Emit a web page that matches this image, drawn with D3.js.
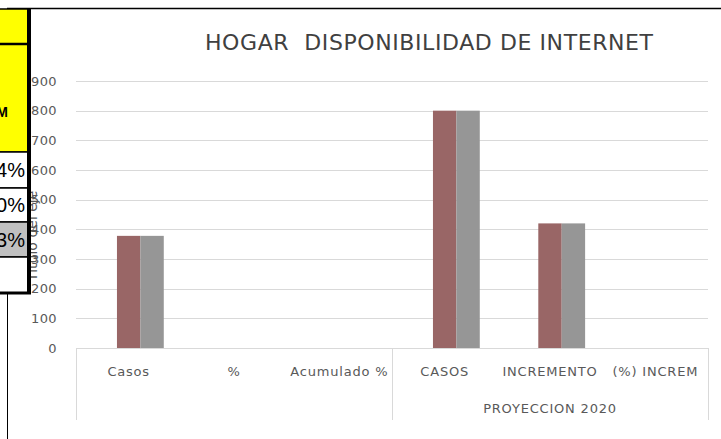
<!DOCTYPE html>
<html>
<head>
<meta charset="utf-8">
<script src="https://cdn.jsdelivr.net/npm/d3@7"></script>
<style>
	body { margin: 0; background: #fff; }
	svg { display: block; }
</style>
</head>
<body>
<svg id="chart" width="721" height="439"></svg>
<script>
// chart data
var categories = ["Casos", "%", "Acumulado %", "CASOS", "INCREMENTO", "(%) INCREM"];
var groupLabels = ["", "PROYECCION 2020"];
var groupSizes = [3, 3];
var seriesNames = ["Serie1", "Serie2", "Serie3"];
var serie1 = [0, 0, 0, 0, 0, 0];
var serie2 = [378, 0, 0, 800, 420, 0];
var serie3 = [378, 0, 0, 800, 420, 0];
var yTicks = [0, 100, 200, 300, 400, 500, 600, 700, 800, 900];
var title = "HOGAR  DISPONIBILIDAD DE INTERNET";
var axisTitle = "Título del eje";
// spreadsheet cells that sit on top of the chart (left side)
var tableRows = [
	{ h: 35, fill: "#ffff00", text: "" },
	{ h: 108, fill: "#ffff00", text: "INCREM", bold: true },
	{ h: 36, fill: "#ffffff", text: "14%" },
	{ h: 34, fill: "#ffffff", text: "50%" },
	{ h: 35, fill: "#c0c0c0", text: "63%" },
	{ h: 36, fill: "#ffffff", text: "" }
];

var colors = { "Serie1": "#4f81bd", "Serie2": "#996666", "Serie3": "#969696" };
var textColor = "#595959";
var gridColor = "#d9d9d9";
var font = "DejaVu Sans";

var svg = d3.select("#chart");
var plot = { left: 76, right: 708, top: 81, bottom: 348 };

var values = { "Serie1": serie1, "Serie2": serie2, "Serie3": serie3 };
var rows = categories.map(function (c, i) {
	return { cat: c, vals: seriesNames.map(function (s) { return { s: s, v: values[s][i] }; }) };
});

var x = d3.scaleBand().domain(categories).range([plot.left, plot.right]).padding(0);
// excel gap width 150% -> outer padding .75 of a bar on each side
var xSub = d3.scaleBand().domain(seriesNames).range([0, x.bandwidth()]).paddingInner(0).paddingOuter(0.75);
var y = d3.scaleLinear().domain([0, 900]).range([plot.bottom, plot.top]);

// chart frame
svg.append("rect").attr("x", 0).attr("y", 0).attr("width", 721).attr("height", 439).style("fill", "#fff");
svg.append("line").attr("x1", 7).attr("x2", 721).attr("y1", 8.5).attr("y2", 8.5)
	.attr("stroke", "#000").attr("stroke-width", 1.5);
svg.append("line").attr("x1", 7.5).attr("x2", 7.5).attr("y1", 8).attr("y2", 439)
	.attr("stroke", "#000").attr("stroke-width", 1);

// title
svg.append("text")
	.attr("x", 429).attr("y", 50).attr("text-anchor", "middle")
	.style("font-family", font).style("font-size", "22px").style("fill", "#404040")
	.attr("textLength", 448).attr("lengthAdjust", "spacing")
	.style("white-space", "pre")
	.text(title);

// gridlines
svg.append("g").selectAll("line").data(yTicks).enter()
	.append("line")
	.attr("x1", plot.left).attr("x2", plot.right)
	.attr("y1", function (d) { return Math.round(y(d)) + 0.5; })
	.attr("y2", function (d) { return Math.round(y(d)) + 0.5; })
	.attr("stroke", gridColor).attr("stroke-width", 1);

// bars
var catG = svg.append("g").selectAll("g").data(rows).enter()
	.append("g")
	.attr("transform", function (d) { return "translate(" + x(d.cat) + ",0)"; });
catG.selectAll("rect").data(function (d) { return d.vals; }).enter()
	.append("rect")
	.attr("x", function (d) { return xSub(d.s); })
	.attr("width", xSub.bandwidth())
	.attr("y", function (d) { return y(d.v); })
	.attr("height", function (d) { return y(0) - y(d.v); })
	.style("fill", function (d) { return colors[d.s]; });

// y axis labels
var yAxis = d3.axisLeft(y).tickValues(yTicks).tickSize(0).tickPadding(0);
var yg = svg.append("g").attr("transform", "translate(57,0)").call(yAxis);
yg.select(".domain").remove();
yg.selectAll("text").style("font-family", font).style("font-size", "13px")
	.style("fill", textColor).style("letter-spacing", "0.4px");

// axis title (mostly hidden behind the cells)
svg.append("text")
	.attr("transform", "translate(37,236) rotate(-90)")
	.attr("text-anchor", "middle")
	.style("font-family", font).style("font-size", "14px").style("fill", textColor)
	.text(axisTitle);

// category axis (two levels)
svg.append("line").attr("x1", plot.left).attr("x2", plot.right)
	.attr("y1", plot.bottom + 0.5).attr("y2", plot.bottom + 0.5)
	.attr("stroke", gridColor);
var xAxis = d3.axisBottom(x).tickSize(0).tickPadding(0);
var xg = svg.append("g").attr("transform", "translate(0,376)").call(xAxis);
xg.select(".domain").remove();
xg.selectAll("text").attr("dy", 0).style("font-family", font).style("font-size", "13px")
	.style("fill", textColor).style("letter-spacing", "0.8px");

var groups = [];
var start = 0;
groupLabels.forEach(function (g, i) {
	groups.push({ label: g, first: categories[start], last: categories[start + groupSizes[i] - 1] });
	start += groupSizes[i];
});
var sepX = [plot.left].concat(groups.map(function (g) { return x(g.last) + x.bandwidth(); }));
svg.append("g").selectAll("line").data(sepX).enter()
	.append("line")
	.attr("x1", function (d) { return Math.round(d) + 0.5; })
	.attr("x2", function (d) { return Math.round(d) + 0.5; })
	.attr("y1", plot.bottom).attr("y2", 420)
	.attr("stroke", gridColor);
svg.append("g").selectAll("text").data(groups).enter()
	.append("text")
	.attr("x", function (d) { return (x(d.first) + x(d.last) + x.bandwidth()) / 2; })
	.attr("y", 412.5).attr("text-anchor", "middle")
	.style("font-family", font).style("font-size", "13px")
	.style("fill", textColor).style("letter-spacing", "0.8px")
	.text(function (d) { return d.label; });

// spreadsheet cells over the chart
var table = svg.append("g");
var tableY = 9;
tableRows.forEach(function (r) { r.y = tableY; tableY += r.h; });
table.selectAll("rect").data(tableRows).enter()
	.append("rect")
	.attr("x", -2).attr("y", function (d) { return d.y; })
	.attr("width", 31).attr("height", function (d) { return d.h; })
	.style("fill", function (d) { return d.fill; })
	.attr("stroke", "#000").attr("stroke-width", 1.5);
table.selectAll("text").data(tableRows).enter()
	.append("text")
	.attr("x", function (d) { return d.bold ? 8 : 25; })
	.attr("y", function (d) { return d.bold ? d.y + 73 : d.y + d.h / 2 + 7; })
	.attr("text-anchor", "end")
	.style("font-family", "Liberation Sans")
	.style("font-size", function (d) { return d.bold ? "14px" : "20px"; })
	.style("font-weight", function (d) { return d.bold ? "bold" : "normal"; })
	.style("fill", "#000")
	.text(function (d) { return d.text; });
table.append("line").attr("x1", 29).attr("x2", 29).attr("y1", 8).attr("y2", tableY + 1)
	.attr("stroke", "#000").attr("stroke-width", 4);
table.append("line").attr("x1", 0).attr("x2", 31).attr("y1", tableY).attr("y2", tableY)
	.attr("stroke", "#000").attr("stroke-width", 3);
table.append("line").attr("x1", 0).attr("x2", 29).attr("y1", 44).attr("y2", 44)
	.attr("stroke", "#000").attr("stroke-width", 2.5);
</script>
</body>
</html>
